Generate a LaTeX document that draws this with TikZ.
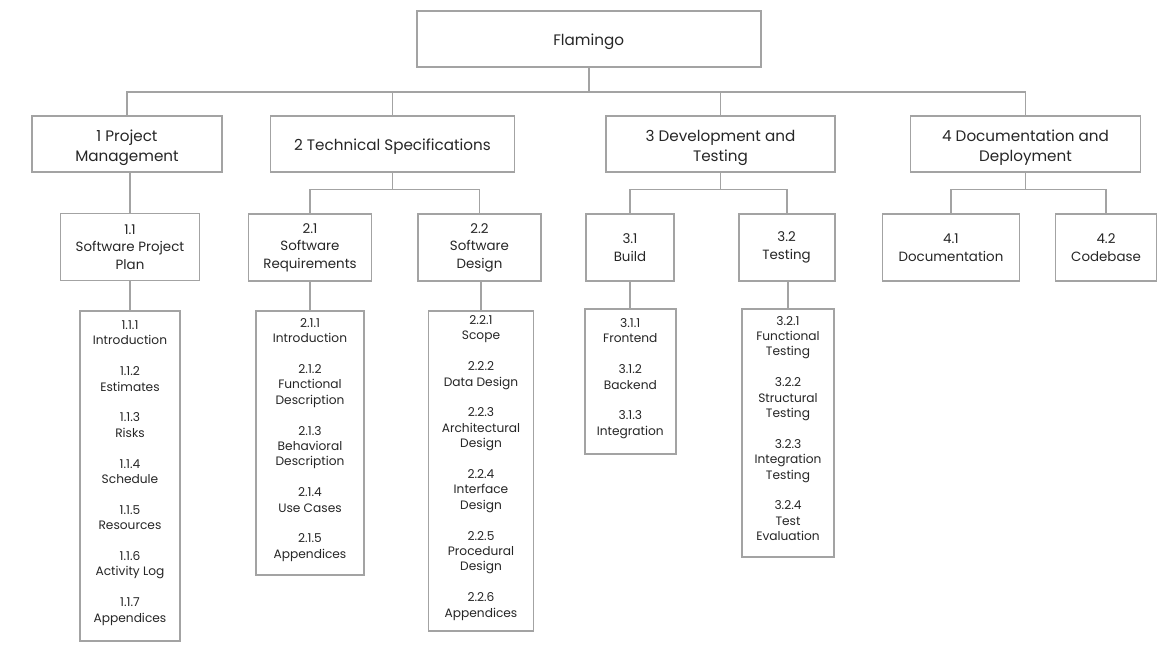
\documentclass[tikz,border=0pt]{standalone}
\usepackage{fontspec}
\setmainfont{Poppins}
\usetikzlibrary{positioning}
\definecolor{edgegray}{HTML}{A3A3A3}
\definecolor{textgray}{HTML}{262626}
\newcommand\sizeL{\fontsize{15.2}{20}\selectfont}
\newcommand\sizeM{\fontsize{13.4}{17.6}\selectfont}
\newcommand\sizeS{\fontsize{12.2}{15.4}\selectfont}
\newcommand\gap{\\[15.4pt]}

\begin{document}
\begin{tikzpicture}[x=1pt,y=-1pt,
            box/.style = {draw=edgegray,line width=1.8pt,fill=white,
                align=center,inner sep=0pt,text=textgray},
            topbox/.style = {box,font=\sizeL,minimum height=56pt,
                execute at begin node={\rule{0pt}{#1}}},
            topbox/.default = 1.1em,
            subbox/.style = {box,font=\sizeM,minimum height=67pt},
            listbox/.style = {box,font=\sizeS,anchor=north,
                execute at end node={\rule[-9pt]{0pt}{0pt}}},
            link/.style = {draw=edgegray,line width=1.8pt}]
            \useasboundingbox (0,0) rectangle (1165,659);
            \coordinate (bus0) at (0,91.7);
            \coordinate (bus1) at (0,189.5);
            \node[topbox,minimum width=344pt](root) at (588.7,38.7) {Flamingo};
            \node[topbox=2.55em,minimum width=190pt](pm) at (127,144) {1 Project\\Management};
            \node[topbox,minimum width=244pt](ts) at (392.5,144) {2 Technical Specifications};
            \node[topbox=2.55em,minimum width=229pt](dt) at (720.5,144) {3 Development and\\Testing};
            \node[topbox=2.55em,minimum width=230pt](dd) at (1025.5,144) {4 Documentation and\\Deployment};
            \node[subbox,minimum width=139pt](spp) at (130,247) {1.1\\Software Project\\Plan};
            \node[subbox,minimum width=123pt](srq) at (310,247.5) {2.1\\Software\\Requirements};
            \node[subbox,minimum width=123pt](sd) at (479.5,247.5) {2.2\\Software\\Design};
            \node[subbox,minimum width=88pt](bld) at (630,247.5) {3.1\\Build};
            \node[subbox,minimum width=96pt](tst) at (786.6,247.5) {3.2\\Testing};
            \node[subbox,minimum width=137pt](doc) at (951,247.5) {4.1\\Documentation};
            \node[subbox,minimum width=101pt](cb) at (1106,247.5) {4.2\\Codebase};
            \node[listbox,minimum width=100pt,minimum height=330pt](l11) at (130,310)
                {1.1.1\\Introduction\gap 1.1.2\\Estimates\gap 1.1.3\\Risks\gap
                1.1.4\\Schedule\gap 1.1.5\\Resources\gap 1.1.6\\Activity Log\gap
                1.1.7\\Appendices};
            \node[listbox,minimum width=108pt,minimum height=264pt](l21) at (310,310)
                {2.1.1\\Introduction\gap 2.1.2\\Functional\\Description\gap
                2.1.3\\Behavioral\\Description\gap 2.1.4\\Use Cases\gap
                2.1.5\\Appendices};
            \node[listbox,minimum width=105pt,minimum height=320pt](l22) at (481,310)
                {2.2.1\\Scope\gap 2.2.2\\Data Design\gap 2.2.3\\Architectural\\Design\gap
                2.2.4\\Interface\\Design\gap 2.2.5\\Procedural\\Design\gap
                2.2.6\\Appendices};
            \node[listbox,minimum width=91pt,minimum height=145pt](l31) at (630.3,308)
                {3.1.1\\Frontend\gap 3.1.2\\Backend\gap 3.1.3\\Integration};
            \node[listbox,minimum width=92pt,minimum height=248pt](l32) at (788,308)
                {3.2.1\\Functional\\Testing\gap 3.2.2\\Structural\\Testing\gap
                3.2.3\\Integration\\Testing\gap 3.2.4\\Test\\Evaluation};
            \draw[link] (pm.north) |- (bus0 -| dd.north) -- (dd.north);
            \foreach \n in {root.south,ts.north,dt.north}
                \draw[link] (\n) -- (bus0 -| \n);
            \foreach \p/\a/\b in {ts/srq/sd, dt/bld/tst, dd/doc/cb}{
                \draw[link] (\p.south) -- (\p.south |- bus1);
                \draw[link] (\a.north) |- (bus1 -| \b.north) -- (\b.north);
            }
            \foreach \a/\b in {pm/spp, spp/l11, srq/l21, sd/l22, bld/l31, tst/l32}
                \draw[link] (\b.north) -- (\b.north |- \a.south);
        \end{tikzpicture}
\end{document}
